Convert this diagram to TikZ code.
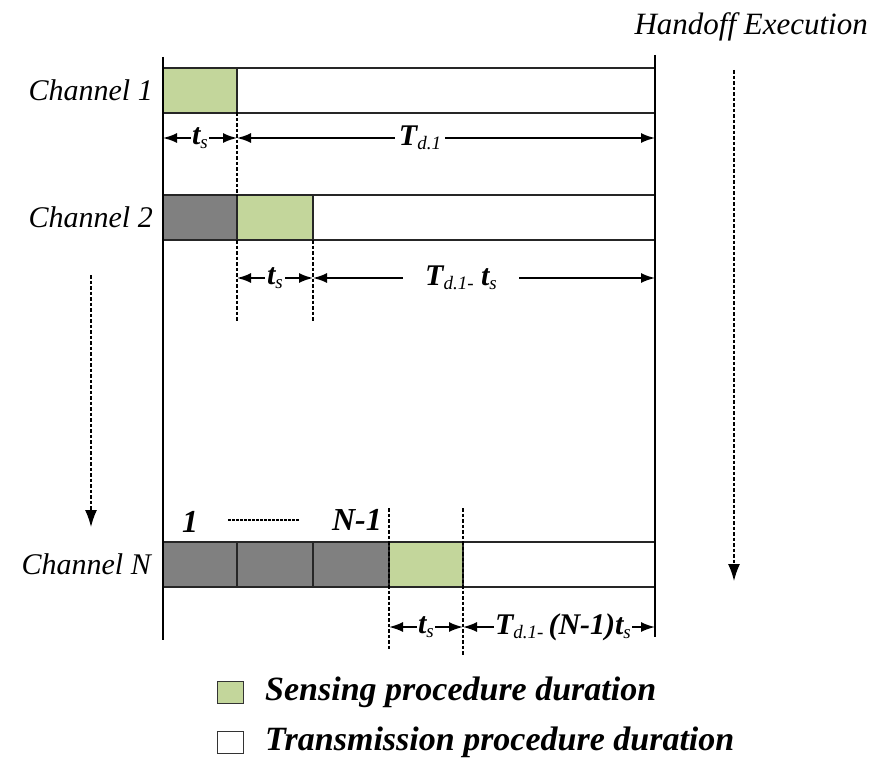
\documentclass[tikz,border=0pt]{standalone}
\usepackage{fontspec}
\setmainfont{Liberation Serif}
\usetikzlibrary{arrows.meta}
\definecolor{sensegreen}{HTML}{C3D69B}
\definecolor{busygray}{HTML}{808080}
\newcommand{\mysub}[1]{\raisebox{-0.3ex}{\fontsize{19}{19}\selectfont\itshape\mdseries #1}}
\newcommand{\tsl}{t\mysub{s}}
\begin{document}
\begin{tikzpicture}[x=1pt,y=-1pt,
  seg/.style={draw=black!85, line width=1.2pt, minimum height=45pt, inner sep=0pt, outer sep=0pt, anchor=north west},
  senseseg/.style={seg, fill=sensegreen},
  busyseg/.style={seg, fill=busygray},
  freeseg/.style={seg, fill=white},
  chlabel/.style={font=\fontsize{30}{34}\selectfont\itshape, anchor=east, inner sep=0pt},
  durlabel/.style={font=\fontsize{30}{32}\selectfont\bfseries\itshape, fill=white, inner sep=2pt},
  bound/.style={line width=2.2pt},
  dimarrow/.style={line width=1.8pt, {Latex[length=14pt,width=10pt]}-{Latex[length=14pt,width=10pt]}},
  dashline/.style={line width=1.4pt, dash pattern=on 3.5pt off 2pt},
  legbox/.style={draw=black!80, line width=0.8pt, minimum width=26pt, minimum height=22pt, inner sep=0pt},
  legtext/.style={font=\fontsize{34}{36}\selectfont\bfseries\itshape, anchor=west, inner sep=0pt}
]
\useasboundingbox (0,0) rectangle (875,760);

% boundaries
\coordinate (Ltop) at (163,57);
\coordinate (Lbot) at (163,640);
\coordinate (Rtop) at (655,55);
\coordinate (Rbot) at (655,637);

% channel 1
\node[senseseg, minimum width=74pt] (c1s) at (163,68) {};
\node[freeseg, minimum width=418pt] (c1t) at (237,68) {};
% channel 2
\node[busyseg, minimum width=74pt] (c2a) at (163,195) {};
\node[senseseg, minimum width=76pt] (c2s) at (237,195) {};
\node[freeseg, minimum width=342pt] (c2t) at (313,195) {};
% channel N
\node[busyseg, minimum width=74pt] (cNa) at (163,542) {};
\node[busyseg, minimum width=76pt] (cNb) at (237,542) {};
\node[busyseg, minimum width=76pt] (cNc) at (313,542) {};
\node[senseseg, minimum width=74pt] (cNs) at (389,542) {};
\node[freeseg, minimum width=192pt] (cNt) at (463,542) {};

\draw[bound] (Ltop) -- (Lbot);
\draw[bound] (Rtop) -- (Rbot);

% channel labels
\node[chlabel] (l1) at (153,90) {Channel 1};
\node[chlabel] (l2) at (153,217) {Channel 2};
\node[chlabel] (lN) at (151,564) {Channel N};
\node[font=\fontsize{31}{34}\selectfont\itshape, inner sep=0pt, anchor=east] (hand) at (868,27) {Handoff Execution};

% dashed guide lines
\coordinate (d1a) at (237,112); \coordinate (d1b) at (237,195);
\coordinate (d1c) at (237,240); \coordinate (d1d) at (237,322);
\coordinate (d2a) at (313,240); \coordinate (d2b) at (313,322);
\coordinate (d3a) at (389,508); \coordinate (d3b) at (389,650);
\coordinate (d4a) at (463,508); \coordinate (d4b) at (463,655);
\draw[dashline] (d1a) -- (d1b);
\draw[dashline] (d1c) -- (d1d);
\draw[dashline] (d2a) -- (d2b);
\draw[dashline] (d3a) -- (d3b);
\draw[dashline] (d4a) -- (d4b);

% dashed direction arrows
\coordinate (la) at (91,275); \coordinate (lb) at (91,527);
\coordinate (ra) at (734,70); \coordinate (rb) at (734,581);
\draw[dashline, -{Latex[length=17pt,width=12pt]}] (la) -- (lb);
\draw[dashline, -{Latex[length=17pt,width=12pt]}] (ra) -- (rb);

% row 1 dimensions
\coordinate (a1) at (163,138); \coordinate (a2) at (237,138); \coordinate (a3) at (655,138);
\draw[dimarrow] (a1) -- (a2);
\draw[dimarrow] (a2) -- (a3);
\node[durlabel, inner xsep=1pt] (t1) at (200,138) {\tsl};
\node[durlabel, inner xsep=4pt] (T1) at (420,138) {T\mysub{d.1}};

% row 2 dimensions
\coordinate (b1) at (237,278); \coordinate (b2) at (313,278); \coordinate (b3) at (655,278);
\draw[dimarrow] (b1) -- (b2);
\draw[dimarrow] (b2) -- (b3);
\node[durlabel, inner xsep=2pt] (t2) at (275,278) {\tsl};
\node[durlabel, inner xsep=22pt] (T2) at (461,278) {T\mysub{d.1-} \tsl};

% row N dimensions
\coordinate (n1) at (389,627); \coordinate (n2) at (463,627); \coordinate (n3) at (655,627);
\draw[dimarrow] (n1) -- (n2);
\draw[dimarrow] (n2) -- (n3);
\node[durlabel, inner xsep=1pt] (tN) at (426,627) {\tsl};
\node[durlabel, inner xsep=1pt] (TN) at (563,627) {T\mysub{d.1-}\,(N-1)\tsl};

% counting of busy slots
\node[font=\fontsize{32}{34}\selectfont\bfseries\itshape, inner sep=0pt] (one) at (190,522) {1};
\node[font=\fontsize{32}{34}\selectfont\bfseries\itshape, inner sep=0pt] (nm1) at (357,520) {N-1};
\coordinate (dt1) at (228,520); \coordinate (dt2) at (300,520);
\draw[line width=1.3pt, dash pattern=on 2.5pt off 1.5pt] (dt1) -- (dt2);

% legend
\node[legbox, fill=sensegreen] (lg1) at (230,692) {};
\node[legbox, fill=white] (lg2) at (230,742) {};
\node[legtext] (lt1) at (265,692) {Sensing procedure duration};
\node[legtext] (lt2) at (265,742) {Transmission procedure duration};
\end{tikzpicture}
\end{document}
